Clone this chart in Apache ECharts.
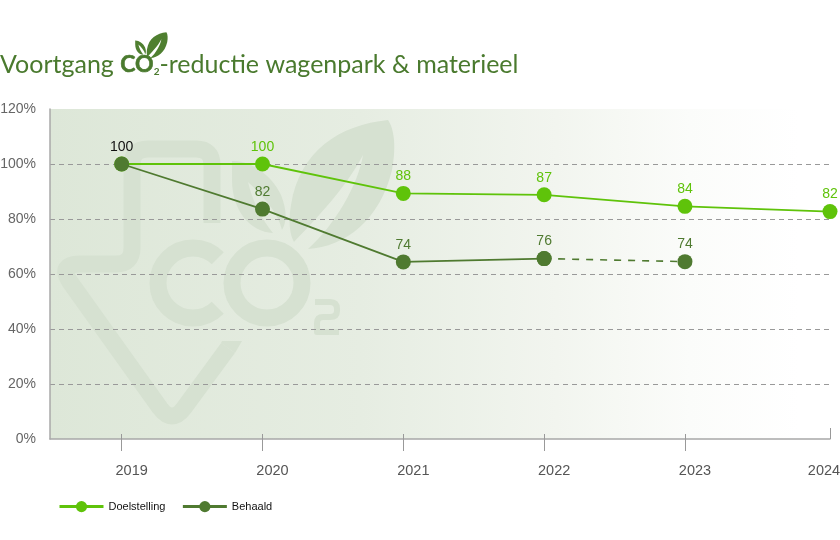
<!DOCTYPE html>
<html><head><meta charset="utf-8">
<style>html,body{margin:0;padding:0;background:#fff}#c{width:840px;height:540px}</style>
<script src="https://cdn.jsdelivr.net/npm/echarts@6/dist/echarts.min.js"></script>
</head><body><div id="c"></div>
<script>
const years = [2019, 2020, 2021, 2022, 2023, 2024.03];
const doelstelling = [100, 100, 89.3, 88.8, 84.6, 82.7];
const doelLabels = ['', '100', '88', '87', '84', '82'];
const behaald = [100, 83.6, 64.4, 65.6];
const behaaldForecast = [65.6, 64.5];
const behaaldLabels = ['100', '82', '74', '76'];
const forecastLabels = ['', '74'];
const yTicks = [0, 20, 40, 60, 80, 100, 120];

const GREEN = '#5fc30a', DARK = '#4f7a30', WM = '#d6e1d1', GREY = '#a8a8a8';
const LEAF_BIG = 'M388 120 C340 125 300 150 291 205 C288 222 290 235 294 242 C310 225 345 190 363 155 C358 185 335 225 308 249 C345 247 380 220 392 170 C396 150 395 130 388 120 Z';
const LEAF_SMALL = 'M232 161 C250 160 272 175 281 195 C287 210 287 222 282 230 C278 212 262 195 248 182 C252 200 262 220 273 233 C250 232 232 210 232 180 Z';
const ARROW = 'M212 223 L212 165 Q212 149 196 149 L148 149 Q132 149 132 165 L132 248 Q132 264 116 264 L80 264 Q58 264 70 282 L160 408 Q172 424 184 408 L228 348';
const TWO = 'M315 302 L330 302 Q337 302 337 309 L337 311 Q337 317 330 317 L323 317 Q317 317 317 323 L317 332 L339 332';

echarts.graphic.registerShape('leafBig', echarts.graphic.extendPath(LEAF_BIG, {}));
echarts.graphic.registerShape('leafSmall', echarts.graphic.extendPath(LEAF_SMALL, {}));
echarts.graphic.registerShape('wmArrow', echarts.graphic.extendPath(ARROW, {}));
echarts.graphic.registerShape('wmTwo', echarts.graphic.extendPath(TWO, {}));

const labelled = (ys, xs, labels, color, first) => ys.map((v, i) => ({
  value: [xs[i], v],
  label: {show: labels[i] !== '', formatter: labels[i], color: (first && i === 0) ? '#111' : color}
}));
const svgPath = (type, fill, stroke, lw, x, y, s) => ({
  type, z:0.5, silent:true, x:x||0, y:y||0, scaleX:s||1, scaleY:s||1,
  style:{fill:fill, stroke:stroke||null, lineWidth:lw||0, lineCap:'butt', lineJoin:'round'}
});

const chart = echarts.init(document.getElementById('c'), null, {renderer:'canvas'});
const lineCommon = {type:'line', symbol:'circle', symbolSize:15, clip:false, smooth:false,
  label:{show:true, position:'top', distance:2.5, fontFamily:'Liberation Sans', fontSize:14}};
chart.setOption({
  animation:false,
  backgroundColor:'#fff',
  title:{left:0, top:52, padding:0, text:'{a|Voortgang }{b|CO}{c|2}{a|-reductie wagenpark & materieel}',
    textStyle:{fontWeight:'normal', rich:{
      a:{fontFamily:'Lato', fontSize:25, fontWeight:'normal', color:'#4a7a2e'},
      b:{fontFamily:'Lato', fontSize:23, fontWeight:'bold', color:'#4a7a2e', textBorderColor:'#4a7a2e', textBorderWidth:0.6},
      c:{fontFamily:'Lato', fontSize:10, fontWeight:'bold', color:'#4a7a2e', verticalAlign:'bottom', padding:[12,0,0,0]}
    }}},
  grid:{left:50, right:10, top:109, bottom:101, show:true, borderWidth:0, z:0, outerBoundsMode:'none',
    backgroundColor:{type:'linear', x:0, y:0, x2:1, y2:0, colorStops:[
      {offset:0, color:'#dde7d8'},{offset:0.4, color:'#e6ede2'},{offset:0.65, color:'#f2f5ef'},
      {offset:0.82, color:'#fbfcfa'},{offset:0.96, color:'#ffffff'}]}},
  graphic:{elements:[
    svgPath('wmArrow', null, WM, 17),
    {type:'polygon', z:0.5, silent:true, shape:{points:[[221,343],[222,341],[242,341],[235,353]]}, style:{fill:WM}},
    {type:'arc', z:0.5, silent:true, shape:{cx:193, cy:283, r:35, startAngle:Math.PI/4, endAngle:Math.PI*7/4, clockwise:true}, style:{stroke:WM, lineWidth:17, fill:null, lineCap:'butt'}},
    {type:'circle', z:0.5, silent:true, shape:{cx:267, cy:283, r:35}, style:{stroke:WM, lineWidth:17, fill:null}},
    svgPath('wmTwo', null, WM, 6),
    svgPath('leafBig', WM),
    svgPath('leafSmall', WM),
    svgPath('leafBig', '#4f7f30', null, 0, 88.8, 8.2, 0.2),
    svgPath('leafSmall', '#4f7f30', null, 0, 88.8, 8.2, 0.2)
  ]},
  legend:{left:58, top:501, itemWidth:44, itemHeight:14, itemGap:16, padding:0,
    data:['Doelstelling','Behaald'],
    lineStyle:{width:3},
    textStyle:{fontFamily:'Liberation Sans', fontSize:11, color:'#111'}},
  xAxis:[
    {type:'value', position:'bottom', min:2018.491, max:2024.03, z:1,
     splitLine:{show:false},
     axisLine:{show:true, onZero:false, lineStyle:{color:GREY, width:1.5}},
     axisTick:{show:true, length:12, lineStyle:{color:'#999', width:1}, customValues:years.slice(0,5)},
     axisLabel:{margin:24, fontFamily:'Liberation Sans', fontSize:14.5, color:'#555', customValues:years,
       formatter:(v)=> (Math.floor(v) === 2024 ? '{e|2024}' : '{n|'+Math.floor(v)+'}'),
       rich:{n:{fontFamily:'Liberation Sans', fontSize:14.5, color:'#555', padding:[0,0,0,20]},
             e:{fontFamily:'Liberation Sans', fontSize:14.5, color:'#555', padding:[0,12,0,0]}}}},
    {type:'value', position:'bottom', min:2018.491, max:2024.03, z:1, show:true,
     splitLine:{show:false}, axisLine:{show:false}, axisLabel:{show:false},
     axisTick:{show:true, inside:true, length:5, lineStyle:{color:'#999', width:1}, customValues:years.slice(0,5)}},
    {type:'value', position:'bottom', min:2018.491, max:2024.03, z:1, show:true,
     splitLine:{show:false}, axisLine:{show:false}, axisLabel:{show:false},
     axisTick:{show:true, inside:true, length:11, lineStyle:{color:'#999', width:1}, customValues:[years[5]]}}
  ],
  yAxis:{type:'value', min:yTicks[0], max:yTicks[yTicks.length-1], interval:20, z:1,
    axisLine:{show:true, lineStyle:{color:GREY, width:1.5}},
    axisTick:{show:false},
    axisLabel:{margin:14, fontFamily:'Liberation Sans', fontSize:14, color:'#666', formatter:'{value}%'},
    splitLine:{show:true, showMinLine:false, showMaxLine:false, lineStyle:{color:'#999', type:[5,4], width:1}}},
  series:[
    Object.assign({}, lineCommon, {name:'Doelstelling', z:2,
      data:labelled(doelstelling, years, doelLabels, GREEN, false),
      itemStyle:{color:GREEN}, lineStyle:{color:GREEN, width:1.8}}),
    Object.assign({}, lineCommon, {name:'Behaald', z:3,
      data:labelled(behaald, years, behaaldLabels, DARK, true),
      itemStyle:{color:DARK}, lineStyle:{color:DARK, width:1.8}}),
    Object.assign({}, lineCommon, {name:'Behaald', z:3,
      data:labelled(behaaldForecast, years.slice(3,5), forecastLabels, DARK, false),
      itemStyle:{color:DARK}, lineStyle:{color:DARK, width:1.6, type:[7,7]}})
  ]
});
</script></body></html>
